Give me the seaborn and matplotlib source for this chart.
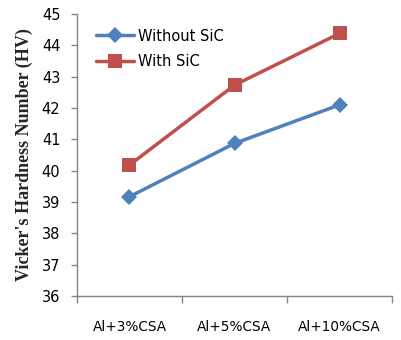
import matplotlib
matplotlib.use("Agg")
import matplotlib.pyplot as plt
import pandas as pd
import seaborn as sns

categories = ["Al+3%CSA", "Al+5%CSA", "Al+10%CSA"]
without_sic = [39.17, 40.87, 42.1]
with_sic = [40.18, 42.73, 44.38]
series_names = ["Without SiC", "With SiC"]

df = pd.DataFrame({
    "cat": categories * 2,
    "hv": without_sic + with_sic,
    "series": [series_names[0]] * 3 + [series_names[1]] * 3,
})

sns.set_style("white")
plt.rcParams["font.family"] = ["DejaVu Sans"]
plt.rcParams["text.color"] = "black"
plt.rcParams["xtick.color"] = "black"
plt.rcParams["ytick.color"] = "black"

fig = plt.figure(figsize=(4.01, 3.40), dpi=100)
ax = fig.add_axes([0.192, 0.1294, 0.7856, 0.8294])

palette = {"Without SiC": "#4F81BD", "With SiC": "#C0504D"}
sns.lineplot(
    data=df, x="cat", y="hv", hue="series", style="series",
    markers={"Without SiC": "D", "With SiC": "s"},
    dashes=False, palette=palette, linewidth=2.5,
    markersize=9, markeredgewidth=0, sort=False, ax=ax,
)
for line in ax.get_lines():
    if line.get_marker() == "s":
        line.set_markersize(10)
    else:
        line.set_markersize(8)

ax.set_ylim(36, 45)
ax.set_yticks(range(36, 46))
ax.set_xlim(-0.5, 2.5)
ax.set_xticks([-0.5, 0.5, 1.5, 2.5])
ax.set_xticklabels([])
ax.set_xticks(range(3), minor=True)
ax.set_xticklabels(categories, minor=True)
ax.tick_params(axis="x", which="major", direction="out", length=5,
               color="#868686", width=1, bottom=True)
ax.tick_params(axis="x", which="minor", length=0, pad=17, labelsize=9.8)
ax.tick_params(axis="y", direction="out", length=4, color="#868686",
               width=1, left=True, labelsize=10.5, pad=8)

for s in ["top", "right"]:
    ax.spines[s].set_visible(False)
for s in ["left", "bottom"]:
    ax.spines[s].set_color("#868686")
    ax.spines[s].set_linewidth(1)

ax.set_xlabel("")
ax.set_ylabel("Vicker's Hardness Number (HV)", fontsize=13,
              fontweight="bold", family="Liberation Serif", labelpad=6)

leg = ax.legend(loc="upper left", bbox_to_anchor=(0.02, 0.995), frameon=False,
                fontsize=10.5, handlelength=2.6, labelspacing=0.75,
                handletextpad=0.25)

fig.savefig("out.png", dpi=100)
